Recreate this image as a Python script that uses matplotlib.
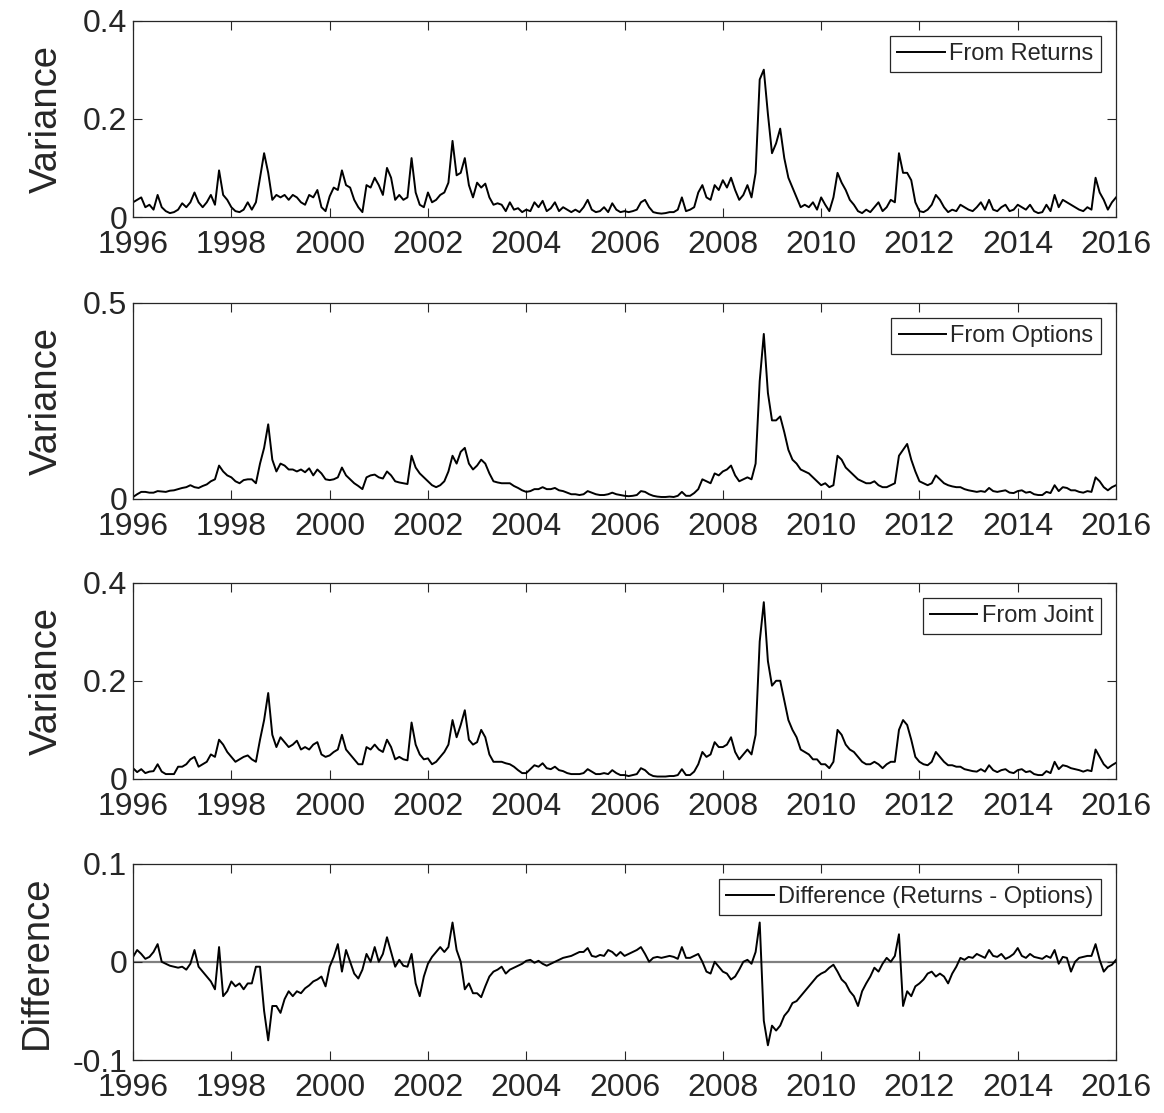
import numpy as np
import matplotlib.pyplot as plt

# monthly readings, Jan 1996 .. Dec 2015, plus the last point at Jan 2016
returns_var = [
    0.030, 0.035, 0.040, 0.020, 0.025, 0.015, 0.045, 0.020, 0.012, 0.008, 0.010, 0.015,  # 1996
    0.028, 0.020, 0.030, 0.050, 0.030, 0.020, 0.030, 0.045, 0.025, 0.095, 0.045, 0.035,  # 1997
    0.020, 0.012, 0.010, 0.015, 0.030, 0.015, 0.030, 0.080, 0.130, 0.090, 0.035, 0.045,  # 1998
    0.040, 0.045, 0.035, 0.045, 0.040, 0.030, 0.025, 0.045, 0.040, 0.055, 0.020, 0.012,  # 1999
    0.042, 0.060, 0.055, 0.095, 0.065, 0.060, 0.035, 0.020, 0.010, 0.065, 0.060, 0.080,  # 2000
    0.065, 0.045, 0.100, 0.080, 0.035, 0.045, 0.035, 0.040, 0.120, 0.050, 0.025, 0.020,  # 2001
    0.050, 0.030, 0.035, 0.045, 0.050, 0.070, 0.155, 0.085, 0.090, 0.120, 0.065, 0.040,  # 2002
    0.070, 0.060, 0.068, 0.040, 0.025, 0.028, 0.025, 0.012, 0.030, 0.015, 0.018, 0.010,  # 2003
    0.015, 0.012, 0.030, 0.020, 0.033, 0.012, 0.018, 0.030, 0.012, 0.020, 0.015, 0.010,  # 2004
    0.015, 0.010, 0.020, 0.035, 0.015, 0.010, 0.012, 0.020, 0.010, 0.028, 0.015, 0.010,  # 2005
    0.012, 0.010, 0.012, 0.015, 0.030, 0.035, 0.020, 0.010, 0.008, 0.007, 0.008, 0.010,  # 2006
    0.010, 0.015, 0.040, 0.012, 0.015, 0.020, 0.050, 0.065, 0.040, 0.035, 0.065, 0.055,  # 2007
    0.075, 0.060, 0.080, 0.055, 0.035, 0.045, 0.065, 0.040, 0.090, 0.280, 0.300, 0.210,  # 2008
    0.130, 0.150, 0.180, 0.120, 0.080, 0.060, 0.040, 0.020, 0.025, 0.020, 0.030, 0.015,  # 2009
    0.040, 0.025, 0.012, 0.040, 0.090, 0.070, 0.055, 0.035, 0.025, 0.012, 0.008, 0.015,  # 2010
    0.010, 0.020, 0.030, 0.012, 0.020, 0.035, 0.030, 0.130, 0.090, 0.090, 0.075, 0.030,  # 2011
    0.012, 0.010, 0.015, 0.025, 0.045, 0.035, 0.020, 0.010, 0.015, 0.012, 0.025, 0.020,  # 2012
    0.015, 0.012, 0.020, 0.030, 0.015, 0.035, 0.015, 0.012, 0.020, 0.025, 0.012, 0.015,  # 2013
    0.025, 0.020, 0.015, 0.025, 0.012, 0.008, 0.010, 0.025, 0.012, 0.045, 0.020, 0.035,  # 2014
    0.030, 0.025, 0.020, 0.015, 0.012, 0.020, 0.015, 0.080, 0.050, 0.035, 0.015, 0.030,  # 2015
    0.040,
]

options_var = [
    0.005, 0.012, 0.018, 0.018, 0.016, 0.016, 0.020, 0.019, 0.018, 0.021, 0.022, 0.025,  # 1996
    0.028, 0.030, 0.035, 0.030, 0.028, 0.033, 0.037, 0.045, 0.050, 0.085, 0.070, 0.060,  # 1997
    0.055, 0.045, 0.040, 0.048, 0.050, 0.050, 0.040, 0.090, 0.130, 0.190, 0.100, 0.070,  # 1998
    0.090, 0.085, 0.075, 0.075, 0.070, 0.075, 0.068, 0.078, 0.060, 0.075, 0.065, 0.050,  # 1999
    0.048, 0.050, 0.055, 0.080, 0.060, 0.050, 0.040, 0.033, 0.025, 0.055, 0.060, 0.062,  # 2000
    0.055, 0.052, 0.070, 0.060, 0.045, 0.042, 0.040, 0.038, 0.110, 0.080, 0.065, 0.055,  # 2001
    0.045, 0.035, 0.030, 0.035, 0.045, 0.070, 0.110, 0.090, 0.120, 0.130, 0.090, 0.075,  # 2002
    0.085, 0.100, 0.090, 0.065, 0.045, 0.042, 0.040, 0.040, 0.040, 0.033, 0.028, 0.022,  # 2003
    0.018, 0.020, 0.025, 0.025, 0.030, 0.025, 0.025, 0.028, 0.022, 0.020, 0.016, 0.012,  # 2004
    0.012, 0.010, 0.012, 0.020, 0.016, 0.012, 0.010, 0.010, 0.012, 0.016, 0.012, 0.010,  # 2005
    0.008, 0.007, 0.008, 0.010, 0.020, 0.018, 0.012, 0.008, 0.006, 0.005, 0.005, 0.006,  # 2006
    0.005, 0.008, 0.018, 0.008, 0.008, 0.015, 0.025, 0.050, 0.045, 0.040, 0.065, 0.060,  # 2007
    0.070, 0.075, 0.085, 0.060, 0.045, 0.050, 0.055, 0.050, 0.090, 0.300, 0.420, 0.270,  # 2008
    0.200, 0.200, 0.210, 0.170, 0.125, 0.100, 0.090, 0.075, 0.070, 0.065, 0.055, 0.045,  # 2009
    0.035, 0.040, 0.030, 0.035, 0.110, 0.100, 0.080, 0.070, 0.060, 0.050, 0.045, 0.040,  # 2010
    0.040, 0.045, 0.035, 0.030, 0.030, 0.035, 0.040, 0.110, 0.125, 0.140, 0.100, 0.070,  # 2011
    0.045, 0.040, 0.035, 0.040, 0.060, 0.050, 0.040, 0.035, 0.032, 0.030, 0.030, 0.025,  # 2012
    0.022, 0.020, 0.018, 0.020, 0.018, 0.028, 0.020, 0.018, 0.020, 0.022, 0.016, 0.015,  # 2013
    0.020, 0.022, 0.016, 0.018, 0.012, 0.010, 0.010, 0.018, 0.015, 0.035, 0.020, 0.030,  # 2014
    0.028, 0.022, 0.022, 0.018, 0.016, 0.020, 0.018, 0.055, 0.045, 0.030, 0.022, 0.030,  # 2015
    0.035,
]

joint_var = [
    0.022, 0.014, 0.020, 0.012, 0.015, 0.016, 0.030, 0.015, 0.010, 0.010, 0.010, 0.025,  # 1996
    0.025, 0.030, 0.040, 0.045, 0.025, 0.030, 0.035, 0.050, 0.045, 0.080, 0.070, 0.055,  # 1997
    0.045, 0.035, 0.040, 0.045, 0.048, 0.040, 0.035, 0.080, 0.120, 0.175, 0.090, 0.065,  # 1998
    0.085, 0.075, 0.065, 0.070, 0.078, 0.060, 0.065, 0.060, 0.070, 0.075, 0.050, 0.045,  # 1999
    0.048, 0.055, 0.060, 0.090, 0.060, 0.050, 0.040, 0.030, 0.030, 0.065, 0.060, 0.070,  # 2000
    0.060, 0.055, 0.080, 0.065, 0.040, 0.045, 0.040, 0.038, 0.115, 0.070, 0.050, 0.040,  # 2001
    0.042, 0.030, 0.035, 0.045, 0.055, 0.070, 0.120, 0.085, 0.110, 0.140, 0.080, 0.070,  # 2002
    0.075, 0.100, 0.085, 0.050, 0.035, 0.035, 0.035, 0.032, 0.030, 0.025, 0.018, 0.012,  # 2003
    0.012, 0.020, 0.028, 0.025, 0.032, 0.022, 0.020, 0.025, 0.018, 0.016, 0.012, 0.010,  # 2004
    0.010, 0.010, 0.012, 0.020, 0.015, 0.010, 0.010, 0.012, 0.010, 0.018, 0.012, 0.008,  # 2005
    0.008, 0.006, 0.008, 0.010, 0.022, 0.018, 0.010, 0.006, 0.005, 0.005, 0.005, 0.006,  # 2006
    0.006, 0.008, 0.020, 0.008, 0.008, 0.015, 0.030, 0.055, 0.045, 0.050, 0.075, 0.065,  # 2007
    0.065, 0.070, 0.085, 0.055, 0.040, 0.050, 0.060, 0.050, 0.090, 0.280, 0.360, 0.240,  # 2008
    0.190, 0.200, 0.200, 0.160, 0.120, 0.100, 0.085, 0.060, 0.055, 0.050, 0.040, 0.040,  # 2009
    0.030, 0.030, 0.022, 0.035, 0.100, 0.090, 0.070, 0.060, 0.055, 0.045, 0.035, 0.030,  # 2010
    0.030, 0.035, 0.030, 0.022, 0.030, 0.035, 0.035, 0.100, 0.120, 0.110, 0.080, 0.045,  # 2011
    0.035, 0.030, 0.028, 0.035, 0.055, 0.045, 0.035, 0.028, 0.028, 0.025, 0.025, 0.020,  # 2012
    0.018, 0.016, 0.015, 0.020, 0.015, 0.028, 0.018, 0.014, 0.018, 0.020, 0.014, 0.012,  # 2013
    0.018, 0.020, 0.014, 0.016, 0.010, 0.008, 0.008, 0.016, 0.012, 0.035, 0.020, 0.028,  # 2014
    0.026, 0.022, 0.020, 0.018, 0.015, 0.018, 0.016, 0.060, 0.045, 0.030, 0.022, 0.028,  # 2015
    0.033,
]

difference = [
    0.005, 0.012, 0.008, 0.003, 0.005, 0.010, 0.018, 0.000, -0.002, -0.004, -0.005, -0.006,  # 1996
    -0.005, -0.008, -0.002, 0.012, -0.005, -0.010, -0.015, -0.020, -0.028, 0.015, -0.035, -0.030,  # 1997
    -0.020, -0.025, -0.022, -0.028, -0.022, -0.022, -0.005, -0.005, -0.050, -0.080, -0.045, -0.045,  # 1998
    -0.052, -0.038, -0.030, -0.035, -0.030, -0.032, -0.027, -0.024, -0.020, -0.018, -0.015, -0.025,  # 1999
    -0.005, 0.005, 0.018, -0.010, 0.012, 0.000, -0.012, -0.017, -0.008, 0.008, 0.000, 0.015,  # 2000
    0.000, 0.008, 0.025, 0.010, -0.005, 0.002, -0.004, -0.005, 0.008, -0.022, -0.035, -0.015,  # 2001
    -0.002, 0.005, 0.010, 0.015, 0.010, 0.015, 0.040, 0.012, 0.000, -0.028, -0.022, -0.032,  # 2002
    -0.032, -0.036, -0.025, -0.015, -0.010, -0.008, -0.005, -0.012, -0.008, -0.006, -0.004, -0.002,  # 2003
    0.001, 0.002, -0.001, 0.001, -0.002, -0.004, -0.002, 0.000, 0.002, 0.004, 0.005, 0.006,  # 2004
    0.008, 0.010, 0.010, 0.014, 0.006, 0.005, 0.007, 0.006, 0.012, 0.010, 0.006, 0.010,  # 2005
    0.006, 0.008, 0.010, 0.012, 0.015, 0.008, 0.000, 0.004, 0.005, 0.004, 0.005, 0.006,  # 2006
    0.005, 0.003, 0.015, 0.004, 0.004, 0.006, 0.008, 0.000, -0.010, -0.012, 0.000, -0.005,  # 2007
    -0.010, -0.012, -0.018, -0.015, -0.008, 0.000, 0.002, -0.002, 0.010, 0.040, -0.060, -0.085,  # 2008
    -0.065, -0.070, -0.065, -0.055, -0.050, -0.042, -0.040, -0.035, -0.030, -0.025, -0.020, -0.015,  # 2009
    -0.012, -0.010, -0.006, -0.003, -0.010, -0.018, -0.022, -0.030, -0.035, -0.045, -0.030, -0.022,  # 2010
    -0.015, -0.006, -0.010, -0.002, 0.004, 0.000, 0.006, 0.028, -0.045, -0.030, -0.035, -0.025,  # 2011
    -0.022, -0.018, -0.012, -0.010, -0.015, -0.012, -0.015, -0.022, -0.012, -0.005, 0.004, 0.002,  # 2012
    0.005, 0.004, 0.008, 0.006, 0.004, 0.012, 0.006, 0.005, 0.008, 0.003, 0.005, 0.008,  # 2013
    0.014, 0.006, 0.004, 0.008, 0.005, 0.004, 0.003, 0.006, 0.004, 0.012, -0.002, 0.005,  # 2014
    0.004, -0.010, 0.000, 0.004, 0.005, 0.006, 0.006, 0.018, 0.002, -0.010, -0.005, -0.003,  # 2015
    0.002,
]

years = 1996 + np.arange(len(returns_var)) / 12.0
year_ticks = list(range(1996, 2017, 2))

plt.rcParams['font.family'] = ['Liberation Sans', 'DejaVu Sans']
plt.rcParams['axes.unicode_minus'] = False

ink = '#262626'
fig = plt.figure(figsize=(11.64, 11.13), dpi=100)

panels = [
    (returns_var, 'From Returns', 'Variance', (0, 0.4), [0, 0.2, 0.4], 0.805),
    (options_var, 'From Options', 'Variance', (0, 0.5), [0, 0.5], 0.5517),
    (joint_var, 'From Joint', 'Variance', (0, 0.4), [0, 0.2, 0.4], 0.3001),
    (difference, 'Difference (Returns - Options)', 'Difference', (-0.1, 0.1), [-0.1, 0, 0.1], 0.0476),
]

for values, name, ylab, ylim, yticks, bottom in panels:
    ax = fig.add_axes([0.1143, bottom, 0.8445, 0.1765])
    if ylab == 'Difference':
        ax.axhline(0, color='0.5', lw=1.6, zorder=1)
    ax.plot(years, values, color='black', lw=1.4, label=name, zorder=2)
    ax.set_xlim(1996, 2016)
    ax.set_ylim(*ylim)
    ax.set_xticks(year_ticks)
    ax.set_yticks(yticks)
    ax.set_yticklabels(['%g' % t for t in yticks])
    ax.tick_params(direction='in', length=6.5, width=0.8, top=True, right=True,
                   labelsize=23, colors=ink)
    ax.tick_params(axis='x', pad=9.5)
    ax.tick_params(axis='y', pad=4)
    for s in ax.spines.values():
        s.set_color(ink)
        s.set_linewidth(0.9)
    ax.set_ylabel(ylab, fontsize=27.5, color=ink, labelpad=13)
    leg = ax.legend(loc='upper right', fontsize=17, handlelength=2.0,
                    handletextpad=0.2, borderpad=0.3, borderaxespad=0.65,
                    fancybox=False, framealpha=1)
    leg.get_frame().set_edgecolor(ink)
    leg.get_frame().set_linewidth(0.9)
    for t in leg.get_texts():
        t.set_color(ink)

fig.savefig('out.png', dpi=100)
